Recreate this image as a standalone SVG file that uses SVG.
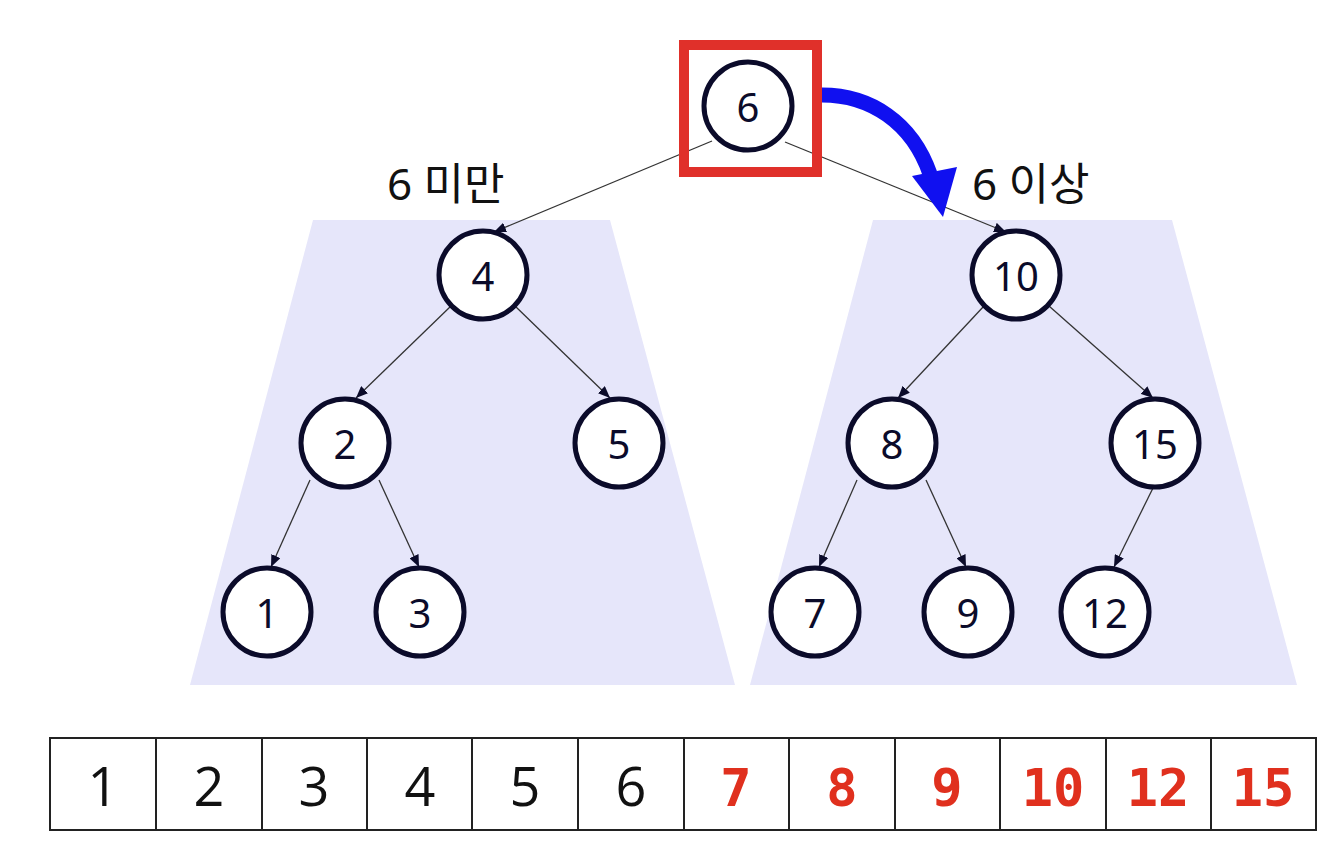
<svg xmlns="http://www.w3.org/2000/svg" width="1326" height="846" viewBox="0 0 1326 846">
  <style>
    .node circle { fill: #ffffff; stroke: #0b0b2a; stroke-width: 5; }
    .node text { font-family: "Noto Sans", "Open Sans", sans-serif; font-size: 40px; fill: #0b0b2a; text-anchor: middle; dominant-baseline: central; }
    .edge { stroke: #333333; stroke-width: 1.3; fill: none; marker-end: url(#tip); }
    .zone { fill: #e6e6fa; }
    .label { font-family: "Noto Sans", "Noto Sans CJK KR", sans-serif; font-size: 44px; fill: #111111; }
    .cell rect { fill: #ffffff; stroke: #222222; stroke-width: 2; }
    .cell text { text-anchor: middle; }
    .lo text { font-family: "Open Sans", "Noto Sans", sans-serif; font-size: 54px; fill: #111111; }
    .hi text { font-family: "DejaVu Sans Mono", "Liberation Mono", monospace; font-size: 52px; font-weight: bold; fill: #e0301e; }
  </style>
  <defs>
    <marker id="tip" viewBox="0 0 12 10" refX="12" refY="5" markerWidth="12" markerHeight="10" markerUnits="userSpaceOnUse" orient="auto">
      <path d="M0,0 L12,5 L0,10 Z" fill="#0b0b2a"/>
    </marker>
  </defs>

  <!-- subtree regions -->
  <polygon class="zone" points="313,220 610,220 735,685 190,685"/>
  <polygon class="zone" points="873,220 1172,220 1297,685 750,685"/>

  <!-- branch labels -->
  <text class="label" x="387" y="200">6 미만</text>
  <text class="label" x="972" y="200">6 이상</text>

  <!-- connectors -->
  <g id="edges">
    <line class="edge" x1="712" y1="141" x2="494" y2="232"/>
    <line class="edge" x1="785" y1="142" x2="1006" y2="232"/>
    <line class="edge" x1="451" y1="306" x2="356" y2="398"/>
    <line class="edge" x1="515" y1="306" x2="610" y2="398"/>
    <line class="edge" x1="310" y1="480" x2="271" y2="567"/>
    <line class="edge" x1="379" y1="480" x2="419" y2="567"/>
    <line class="edge" x1="984" y1="306" x2="898" y2="398"/>
    <line class="edge" x1="1049" y1="306" x2="1153" y2="398"/>
    <line class="edge" x1="857" y1="480" x2="819" y2="567"/>
    <line class="edge" x1="926" y1="480" x2="966" y2="567"/>
    <line class="edge" x1="1153" y1="488" x2="1114" y2="567"/>
  </g>

  <!-- root with highlight box -->
  <g id="node-6" class="node">
    <circle cx="748" cy="106" r="44"/>
    <text x="748" y="106">6</text>
  </g>
  <rect id="root-highlight" x="684" y="45" width="133" height="127" fill="none" stroke="#e0302a" stroke-width="10"/>

  <!-- move-right arrow -->
  <g id="move-arrow">
    <path d="M822,95 C870,95 912,122 930,174" fill="none" stroke="#1010f0" stroke-width="15"/>
    <polygon points="912,176 957,167 943,217" fill="#1010f0"/>
  </g>

  <g id="node-4" class="node"><circle cx="483" cy="275" r="44"/><text x="483" y="275">4</text></g>
  <g id="node-2" class="node"><circle cx="345" cy="443" r="44"/><text x="345" y="443">2</text></g>
  <g id="node-5" class="node"><circle cx="619" cy="443" r="44"/><text x="619" y="443">5</text></g>
  <g id="node-1" class="node"><circle cx="267" cy="612" r="44"/><text x="267" y="612">1</text></g>
  <g id="node-3" class="node"><circle cx="420" cy="612" r="44"/><text x="420" y="612">3</text></g>
  <g id="node-10" class="node"><circle cx="1016" cy="275" r="44"/><text x="1016" y="275">10</text></g>
  <g id="node-8" class="node"><circle cx="892" cy="443" r="44"/><text x="892" y="443">8</text></g>
  <g id="node-15" class="node"><circle cx="1155" cy="443" r="44"/><text x="1155" y="443">15</text></g>
  <g id="node-7" class="node"><circle cx="815" cy="612" r="44"/><text x="815" y="612">7</text></g>
  <g id="node-9" class="node"><circle cx="968" cy="612" r="44"/><text x="968" y="612">9</text></g>
  <g id="node-12" class="node"><circle cx="1105" cy="612" r="44"/><text x="1105" y="612">12</text></g>

  <!-- sorted array -->
  <g id="array">
    <g class="cell lo"><rect x="50" y="738" width="106" height="92"/><text x="103" y="806">1</text></g>
    <g class="cell lo"><rect x="156" y="738" width="106" height="92"/><text x="209" y="806">2</text></g>
    <g class="cell lo"><rect x="262" y="738" width="105" height="92"/><text x="314" y="806">3</text></g>
    <g class="cell lo"><rect x="367" y="738" width="105" height="92"/><text x="420" y="806">4</text></g>
    <g class="cell lo"><rect x="472" y="738" width="106" height="92"/><text x="525" y="806">5</text></g>
    <g class="cell lo"><rect x="578" y="738" width="106" height="92"/><text x="631" y="806">6</text></g>
    <g class="cell hi"><rect x="684" y="738" width="105" height="92"/><text x="736" y="806">7</text></g>
    <g class="cell hi"><rect x="789" y="738" width="106" height="92"/><text x="842" y="806">8</text></g>
    <g class="cell hi"><rect x="895" y="738" width="105" height="92"/><text x="947" y="806">9</text></g>
    <g class="cell hi"><rect x="1000" y="738" width="106" height="92"/><text x="1053" y="806">10</text></g>
    <g class="cell hi"><rect x="1106" y="738" width="105" height="92"/><text x="1158" y="806">12</text></g>
    <g class="cell hi"><rect x="1211" y="738" width="105" height="92"/><text x="1263" y="806">15</text></g>
  </g>
</svg>
